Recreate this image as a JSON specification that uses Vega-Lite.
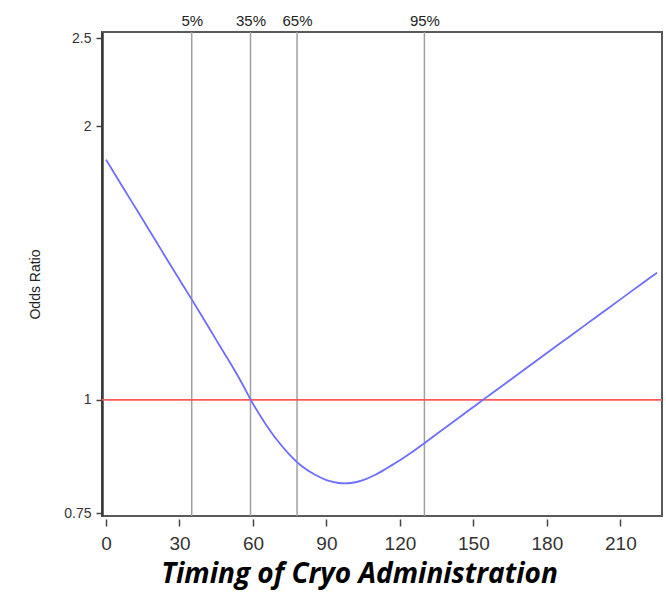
{
  "$schema": "https://vega.github.io/schema/vega-lite/v6.json",
  "width": 560,
  "height": 484,
  "autosize": {"type": "none"},
  "padding": {"left": 102, "top": 32, "right": 4, "bottom": 80},
  "background": "white",
  "config": {
    "font": "Liberation Sans",
    "view": {"stroke": "#5a5a5a", "strokeWidth": 2}
  },
  "datasets": {
    "curve": [
      {"timing": 0, "or": 1.838}, {"timing": 5, "or": 1.747}, {"timing": 10, "or": 1.661},
      {"timing": 15, "or": 1.579}, {"timing": 20, "or": 1.501}, {"timing": 25, "or": 1.426},
      {"timing": 30, "or": 1.356}, {"timing": 35, "or": 1.290}, {"timing": 40, "or": 1.226},
      {"timing": 45, "or": 1.164}, {"timing": 50, "or": 1.106}, {"timing": 55, "or": 1.049},
      {"timing": 60, "or": 0.990}, {"timing": 65, "or": 0.942}, {"timing": 70, "or": 0.902},
      {"timing": 75, "or": 0.870}, {"timing": 80, "or": 0.845}, {"timing": 85, "or": 0.828},
      {"timing": 90, "or": 0.816}, {"timing": 95, "or": 0.810}, {"timing": 100, "or": 0.810},
      {"timing": 105, "or": 0.816}, {"timing": 110, "or": 0.827}, {"timing": 115, "or": 0.842},
      {"timing": 120, "or": 0.858}, {"timing": 125, "or": 0.876}, {"timing": 130, "or": 0.896},
      {"timing": 135, "or": 0.917}, {"timing": 140, "or": 0.938}, {"timing": 145, "or": 0.960},
      {"timing": 150, "or": 0.982}, {"timing": 155, "or": 1.005}, {"timing": 160, "or": 1.028},
      {"timing": 170, "or": 1.076}, {"timing": 180, "or": 1.126}, {"timing": 190, "or": 1.178},
      {"timing": 200, "or": 1.233}, {"timing": 210, "or": 1.290}, {"timing": 220, "or": 1.350},
      {"timing": 225, "or": 1.380}
    ],
    "knots": [
      {"pct": "5%", "timing": 35},
      {"pct": "35%", "timing": 59},
      {"pct": "65%", "timing": 78},
      {"pct": "95%", "timing": 130}
    ],
    "reference": [{"or": 1}]
  },
  "layer": [
    {
      "data": {"name": "knots"},
      "mark": {"type": "rule", "color": "#a0a0a0", "strokeWidth": 1.5},
      "encoding": {
        "x": {
          "field": "timing",
          "type": "quantitative",
          "scale": {"domain": [-1.63, 227], "nice": false, "zero": false},
          "axis": {
            "orient": "top",
            "values": [35, 59, 78, 130],
            "labelExpr": "datum.value == 35 ? '5%' : datum.value == 59 ? '35%' : datum.value == 78 ? '65%' : '95%'",
            "domain": false,
            "ticks": false,
            "grid": false,
            "labelPadding": 7,
            "labelBaseline": "alphabetic",
            "labelFontSize": 15,
            "labelColor": "#222",
            "title": null
          }
        }
      }
    },
    {
      "data": {"name": "reference"},
      "mark": {"type": "rule", "color": "#ff5a5a", "strokeWidth": 1.6},
      "encoding": {
        "y": {
          "field": "or",
          "type": "quantitative",
          "scale": {"type": "log", "domain": [0.745, 2.54], "nice": false}
        }
      }
    },
    {
      "data": {"name": "curve"},
      "mark": {"type": "line", "color": "#6e6eff", "strokeWidth": 1.8, "interpolate": "catmull-rom"},
      "encoding": {
        "x": {
          "field": "timing",
          "type": "quantitative",
          "scale": {"domain": [-1.63, 227], "nice": false, "zero": false},
          "axis": {
            "orient": "bottom",
            "values": [0, 30, 60, 90, 120, 150, 180, 210],
            "offset": 3,
            "domain": false,
            "grid": false,
            "tickSize": 7,
            "tickColor": "#444",
            "tickWidth": 1.5,
            "labelFontSize": 19,
            "labelColor": "#333",
            "labelPadding": 23,
            "labelBaseline": "alphabetic",
            "title": "Timing of Cryo Administration",
            "titleFont": "Open Sans",
            "titleFontStyle": "italic",
            "titleFontWeight": "bold",
            "titleFontSize": 28,
            "titleColor": "black",
            "titleX": 257,
            "titleY": 63,
            "titleAlign": "center",
            "titleBaseline": "alphabetic"
          }
        },
        "y": {
          "field": "or",
          "type": "quantitative",
          "scale": {"type": "log", "domain": [0.745, 2.54], "nice": false},
          "axis": {
            "values": [0.75, 1, 2, 2.5],
            "format": "~g",
            "grid": false,
            "domain": true,
            "domainColor": "#3a3a3a",
            "domainWidth": 2.5,
            "tickSize": 6,
            "tickColor": "#444",
            "tickWidth": 1.5,
            "labelFontSize": 14,
            "labelColor": "#333",
            "labelPadding": 5,
            "title": "Odds Ratio",
            "titleFontSize": 14,
            "titleFontWeight": "normal",
            "titleColor": "#222",
            "titleX": -63,
            "titleY": 252,
            "titleAlign": "center",
            "titleBaseline": "alphabetic"
          }
        }
      }
    }
  ],
  "resolve": {"axis": {"x": "independent"}}
}
